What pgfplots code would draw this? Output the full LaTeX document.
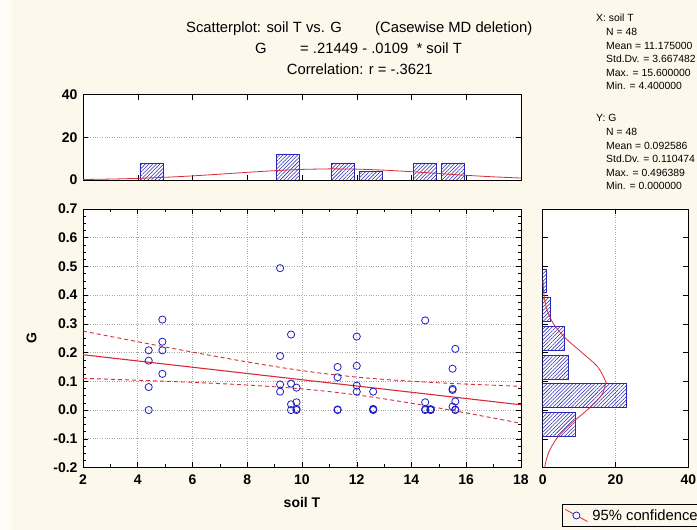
\documentclass[border=0pt]{standalone}
\usepackage{fontspec}
\setmainfont{Liberation Sans}
\usepackage{pgfplots}
\pgfplotsset{compat=1.18}
\usetikzlibrary{patterns.meta}

\definecolor{bg}{RGB}{253,248,236}
\definecolor{bgl}{RGB}{255,252,246}
\definecolor{ptblue}{RGB}{30,30,200}
\definecolor{lnred}{RGB}{215,45,55}
\definecolor{barblue}{RGB}{40,40,180}

\pgfplotstableread{
x y
4.4 0.208
4.4 0.172
4.4 0.080
4.4 0.000
4.9 0.315
4.9 0.238
4.9 0.208
4.9 0.126
9.2 0.494
9.2 0.188
9.2 0.089
9.2 0.064
9.6 0.263
9.6 0.092
9.6 0.020
9.6 0.000
9.8 0.078
9.8 0.027
9.8 0.004
9.8 0.000
11.3 0.150
11.3 0.114
11.3 0.000
11.3 0.002
12.0 0.256
12.0 0.154
12.0 0.085
12.0 0.064
12.6 0.064
12.6 0.004
12.6 0.000
12.6 0.002
14.5 0.312
14.5 0.027
14.5 0.000
14.5 0.003
14.7 0.000
14.7 0.001
14.7 0.002
14.7 0.003
15.5 0.144
15.5 0.074
15.5 0.070
15.5 0.012
15.6 0.213
15.6 0.030
15.6 0.000
15.6 0.002
}\scatterdata

\pgfplotsset{
  statbase/.style={
    scale only axis,
    axis background/.style={fill=white},
    tick align=inside,
    ticklabel style={font=\fontsize{14}{14}\selectfont\bfseries},
    /pgf/number format/assume math mode=true,
    major tick length=5pt, minor tick length=3pt,
    tick style={black, line width=0.5pt},
    axis line style={line width=0.6pt},
    grid style={dotted, gray!70, line width=0.6pt},
    label style={font=\fontsize{14}{14}\selectfont\bfseries},
  }
}

\begin{document}
\begin{tikzpicture}[x=1pt,y=1pt]
\path[use as bounding box] (0,0) rectangle (697,530);
\clip (0,0) rectangle (697,530);
\fill[bg] (0,0) rectangle (697,530);
\fill[bgl] (0,0) rectangle (12,530);

% titles
\begin{scope}[every node/.style={inner sep=0pt, font=\fontsize{14.8}{15}\selectfont}]
\node[anchor=base west] at (186,497.3) {Scatterplot: soil T vs. G};
\node[anchor=base west] at (375,497.3) {(Casewise MD deletion)};
\node[anchor=base west] at (255,476.7) {G};
\node[anchor=base west] at (300,476.7) {= .21449 - .0109\ \ * soil T};
\node[anchor=base west] at (286.7,455) {Correlation: r = -.3621};
\end{scope}

% stats
\begin{scope}[every node/.style={inner sep=0pt, anchor=base west, font=\fontsize{10.4}{11}\selectfont}]
\node at (596,508) {X:\ soil T};
\node at (606,494.4) {N = 48};
\node at (606,480.8) {Mean = 11.175000};
\node at (606,467.2) {Std.Dv. = 3.667482};
\node at (606,453.6) {Max. = 15.600000};
\node at (606,440) {Min. = 4.400000};
\node at (596,408) {Y:\ G};
\node at (606,394.4) {N = 48};
\node at (606,380.8) {Mean = 0.092586};
\node at (606,367.2) {Std.Dv. = 0.110474};
\node at (606,353.6) {Max. = 0.496389};
\node at (606,340) {Min. = 0.000000};
\end{scope}

% main scatter
\begin{axis}[statbase,
  at={(83pt,62.5pt)}, anchor=south west,
  width=438pt, height=258.5pt,
  xmin=2, xmax=18, ymin=-0.2, ymax=0.7,
  xtick={2,4,...,18},
  ytick={-0.2,-0.1,0,0.1,0.2,0.3,0.4,0.5,0.6,0.7},
  yticklabels={-0.2,-0.1,0.0,0.1,0.2,0.3,0.4,0.5,0.6,0.7},
  minor x tick num=1, minor y tick num=3,
  grid=major,
  xlabel={soil T}, ylabel={G},
  xticklabel style={yshift=-4pt},
  yticklabel style={xshift=-2pt},
  xlabel style={yshift=-6pt},
  ylabel style={yshift=10pt},
]
\addplot[lnred, line width=0.9pt, dash pattern=on 4pt off 3pt, smooth] coordinates {
(2,0.27494) (3,0.25635) (4,0.23792) (5,0.2197) (6,0.20178) (7,0.1843) (8,0.16749) (9,0.15166) (10,0.13729) (11,0.12488) (12,0.11471) (13,0.10665) (14,0.10023) (15,0.09494) (16,0.09042) (17,0.0864) (18,0.08272)};
\addplot[lnred, line width=0.9pt, dash pattern=on 4pt off 3pt, smooth] coordinates {
(2,0.11044) (3,0.10723) (4,0.10386) (5,0.10028) (6,0.0964) (7,0.09208) (8,0.08709) (9,0.08112) (10,0.07369) (11,0.0643) (12,0.05267) (13,0.03893) (14,0.02355) (15,0.00704) (16,-0.01024) (17,-0.02802) (18,-0.04614)};
\addplot[lnred, line width=1.1pt] coordinates {(2,0.19269) (18,0.01829)};
\addplot[only marks, mark=o, mark size=3.6pt, ptblue, mark options={line width=0.8pt}] table[x=x,y=y] {\scatterdata};
\end{axis}

% top histogram
\begin{axis}[statbase,
  at={(83pt,350pt)}, anchor=south west,
  width=438pt, height=85.3pt,
  xmin=2, xmax=18, ymin=0, ymax=40,
  xtick={4,6,...,16}, xticklabels={},
  ytick={0,20,40},
  ymajorgrids,
  yticklabel style={xshift=-2pt},
]
\addplot[ybar, bar width=0.84, draw=barblue, line width=0.7pt,
  pattern={Lines[angle=45,distance=2.6pt,line width=0.55pt]}, pattern color=barblue]
  coordinates {(4.5,8) (9.5,12) (11.5,8) (12.5,4) (14.5,8) (15.5,8)};
\addplot[lnred, line width=0.8pt, smooth] coordinates {
(2,0.229) (3,0.436) (4,0.770) (5,1.265) (6,1.930) (7,2.732) (8,3.590) (9,4.380) (10,4.961) (11,5.216) (11.175,5.222) (12,5.091) (13,4.614) (14,3.882) (15,3.031) (16,2.198) (17,1.479) (18,0.924)};
\end{axis}

% right histogram
\begin{axis}[statbase,
  at={(542.7pt,62.5pt)}, anchor=south west,
  width=145.6pt, height=258.5pt,
  xmin=0, xmax=40, ymin=-0.2, ymax=0.7,
  xtick={0,20,40},
  ytick={-0.2,-0.1,0,0.1,0.2,0.3,0.4,0.5,0.6,0.7}, yticklabels={},
  xmajorgrids,
  xticklabel style={yshift=-4pt},
  legend style={at={(axis description cs:0.1305,-0.1415)}, anchor=north west,
    draw=black, line width=0.6pt, fill=bg, font=\fontsize{14.8}{15}\selectfont,
    inner xsep=3pt, inner ysep=3pt},
  legend cell align=left,
]
\addplot[forget plot, xbar, bar width=0.083, draw=barblue, line width=0.7pt,
  pattern={Lines[angle=45,distance=2.6pt,line width=0.55pt]}, pattern color=barblue]
  coordinates {(1,0.45) (2,0.35) (6,0.25) (7,0.15) (23,0.05) (9,-0.05)};
\addplot[forget plot, lnred, line width=0.8pt, smooth] coordinates {
(0.520,-0.2) (1.555,-0.15) (3.792,-0.1) (7.533,-0.05) (12.20,0) (16.09,0.05) (17.33,0.0926) (17.29,0.1) (15.14,0.15) (10.80,0.2) (6.280,0.25) (2.974,0.3) (1.148,0.35) (0.361,0.4) (0.093,0.45)};
\addlegendimage{legend image code/.code={
  \path[draw=none, fill=none] (0pt,0pt) rectangle (25pt,1pt);
  \draw[lnred, line width=0.8pt] (0pt,6pt) -- (22pt,-6pt);
  \draw[ptblue, line width=0.8pt, fill=white] (11pt,0pt) circle (3.5pt);}}
\addlegendentry{95\% confidence}
\end{axis}
\end{tikzpicture}
\end{document}
